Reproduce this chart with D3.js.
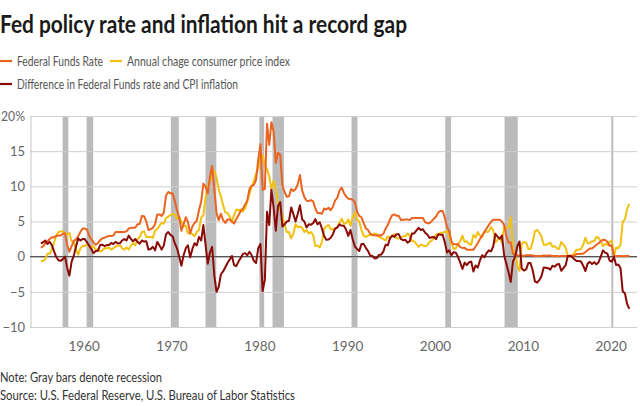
<!DOCTYPE html>
<html><head><meta charset="utf-8">
<script src="https://cdn.jsdelivr.net/npm/d3@7"></script>
<style>body{margin:0;background:#fff}svg{display:block}</style>
</head><body><svg id="chart" width="640" height="406"></svg>
<script>
// ---- DATA (quarterly readings, first point early 1955) ----
const startYear = 1955;
const fedFunds = [
1.3,1.45,1.9,2.2, 2.5,2.75,2.75,2.95, 3.0,3.0,3.25,3.3, 1.6,0.7,1.5,2.25, 2.45,2.9,3.5,4.0,
4.0,3.85,2.95,2.45, 2.0,1.7,1.95,2.35, 2.6,2.7,2.85,2.95, 2.95,3.0,3.5,3.5, 3.5,3.5,3.5,3.6,
4.0,4.1,4.1,4.1, 4.6,4.65,5.8,5.75, 5.0,3.8,3.9,4.1, 4.6,6.0,6.0,5.8, 6.3,8.7,9.2,9.0,
9.0,7.9,6.6,5.6, 3.7,4.6,5.6,4.9, 3.3,4.3,4.8,5.1, 6.6,7.8,10.4,10.0, 9.0,11.3,12.9,9.5,
6.2,5.2,6.1,5.2, 4.8,5.3,5.3,5.0, 4.7,5.35,5.9,6.5, 6.8,7.4,8.0,9.6, 10.1,10.2,10.9,13.8,
16.0,9.5,9.6,18.9, 15.9,19.1,17.8,13.3, 14.8,14.45,10.1,9.2, 8.5,8.6,9.6,9.35, 9.6,10.3,11.6,9.4,
8.5,7.95,7.9,8.05, 7.85,6.85,6.2,6.2, 6.1,6.85,6.7,6.95, 6.6,7.1,8.0,8.35, 9.4,9.8,9.1,8.55,
8.25,8.2,8.1,7.75, 6.4,5.8,5.6,4.8, 4.05,3.8,3.25,3.1, 3.05,3.0,3.05,3.0, 3.25,4.0,4.5,5.3,
5.9,6.0,5.8,5.8, 5.2,5.25,5.3,5.3, 5.2,5.5,5.5,5.5, 5.5,5.5,5.5,4.9, 4.75,4.75,5.05,5.4,
5.7,6.3,6.5,6.5, 5.5,4.2,3.6,2.1, 1.75,1.75,1.75,1.35, 1.25,1.25,1.0,1.0, 1.0,1.0,1.45,1.95,
2.5,3.0,3.5,4.0, 4.5,4.95,5.25,5.25, 5.25,5.25,5.0,4.5, 3.0,2.0,2.0,0.4, 0.2,0.18,0.16,0.12,
0.13,0.2,0.19,0.19, 0.16,0.09,0.1,0.08, 0.1,0.16,0.13,0.16, 0.15,0.11,0.08,0.08, 0.07,0.09,0.09,0.09,
0.11,0.12,0.14,0.12, 0.38,0.37,0.4,0.41, 0.66,0.91,1.16,1.16, 1.42,1.7,1.91,2.2, 2.4,2.38,2.13,1.55,
1.58,0.05,0.1,0.09, 0.08,0.06,0.09,0.08, 0.08
];
const cpiInflation = [
-0.6,-0.6,-0.4,0.4, 0.4,1.1,2.0,3.0, 3.5,3.6,3.6,3.3, 3.2,3.4,2.2,2.1, 1.0,0.3,1.2,1.5,
1.5,1.8,1.4,1.4, 1.5,0.9,1.1,0.7, 0.9,1.2,1.2,1.3, 1.0,1.2,1.4,1.6, 1.6,1.2,1.0,1.3,
1.0,1.6,1.9,1.6, 2.5,2.8,3.5,3.6, 2.8,2.8,2.8,2.7, 3.7,3.9,4.4,4.8, 4.7,5.5,5.7,5.9,
6.1,6.0,5.4,5.6, 5.0,4.4,4.4,3.3, 3.4,3.2,2.9,3.5, 3.8,5.5,5.9,8.3, 10.0,10.7,11.5,12.2,
11.2,9.5,8.6,7.3, 6.3,6.2,5.7,4.9, 5.9,6.7,6.6,6.7, 6.4,6.9,7.8,8.9, 9.9,10.8,11.8,12.6,
14.2,14.4,12.9,12.5, 11.4,9.6,10.8,9.6, 7.6,6.7,5.8,4.6, 3.5,3.5,2.6,3.3, 4.6,4.2,4.3,4.1,
3.5,3.8,3.3,3.5, 3.1,1.5,1.6,1.3, 2.1,3.9,4.3,4.5, 3.9,3.9,4.0,4.2, 4.8,5.4,4.7,4.7,
5.3,4.4,5.6,6.3, 5.3,5.0,3.8,3.0, 2.8,3.0,3.1,3.0, 3.3,3.2,2.8,2.7, 2.5,2.3,2.9,2.7,
2.9,3.2,2.6,2.6, 2.7,2.9,2.9,3.3, 3.0,2.2,2.2,1.8, 1.4,1.7,1.6,1.5, 1.6,2.1,2.3,2.6,
3.2,3.1,3.4,3.4, 3.5,3.6,2.7,1.9, 1.1,1.2,1.8,2.2, 3.0,2.1,2.2,1.8, 1.7,3.1,2.7,3.5,
3.0,2.8,3.6,3.5, 3.6,4.2,3.8,2.0, 2.4,2.7,2.0,4.3, 4.0,4.2,5.6,1.1, 0.2,-1.3,-2.0,1.8,
2.1,2.0,1.1,1.1, 2.1,3.6,3.8,3.4, 2.9,1.7,1.7,1.8, 2.0,1.4,1.5,1.2, 1.1,2.1,1.7,1.3,
0.0,0.0,0.2,0.5, 1.0,1.0,1.1,1.7, 2.7,1.9,1.9,2.2, 2.2,2.8,2.7,2.2, 1.5,1.8,1.7,2.1,
2.3,0.1,1.3,1.2, 1.7,5.0,5.3,6.8, 7.5
];
const rateMinusInflation = [
1.9,2.05,2.3,1.8, 2.1,1.65,0.75,-0.05, -0.5,-0.6,-0.35,0.0, -1.6,-2.7,-0.7,0.15, 1.45,2.6,2.3,2.5,
2.5,2.05,1.55,1.05, 0.5,0.8,0.85,1.65, 1.7,1.5,1.65,1.65, 1.95,1.8,2.1,1.9, 1.9,2.3,2.5,2.3,
3.0,2.5,2.2,2.5, 2.1,1.85,2.3,2.15, 2.2,1.0,1.1,1.4, 0.9,2.1,1.6,1.0, 1.6,3.2,3.5,3.1,
2.9,1.9,1.2,0.0, -1.3,0.2,1.2,1.6, -0.1,1.1,1.9,1.6, 2.8,2.3,4.5,1.7, -1.0,0.6,1.4,-2.7,
-5.0,-4.3,-2.5,-2.1, -1.5,-0.9,-0.4,0.1, -1.2,-1.35,-0.7,-0.2, 0.4,0.5,0.2,0.7, 0.2,-0.6,-0.9,1.2,
1.8,-4.9,-3.3,6.4, 4.5,9.5,7.0,3.7, 7.2,7.75,4.3,4.6, 5.0,5.1,7.0,6.05, 5.0,6.1,7.3,5.3,
5.0,4.15,4.6,4.55, 4.75,5.35,4.6,4.9, 4.0,2.95,2.4,2.45, 2.7,3.2,4.0,4.15, 4.6,4.4,4.4,3.85,
2.95,3.8,2.5,1.45, 1.1,0.8,1.8,1.8, 1.25,0.8,0.15,0.1, -0.25,-0.2,0.25,0.3, 0.75,1.7,1.6,2.6,
3.0,2.8,3.2,3.2, 2.5,2.35,2.4,2.0, 2.2,3.3,3.3,3.7, 4.1,3.8,3.9,3.4, 3.15,2.65,2.75,2.8,
2.5,3.2,3.1,3.1, 2.0,0.6,0.9,0.2, 0.65,0.55,-0.05,-0.85, -1.75,-0.85,-1.2,-0.8, -0.7,-2.1,-1.25,-1.55,
-0.5,0.2,-0.1,0.5, 0.9,0.75,1.45,3.25, 2.85,2.55,3.0,0.2, -1.0,-2.2,-3.6,-0.7, 0.0,1.48,2.16,-1.68,
-1.97,-1.8,-0.91,-0.91, -1.94,-3.51,-3.7,-3.32, -2.8,-1.54,-1.57,-1.64, -1.85,-1.29,-1.42,-1.12, -1.03,-2.01,-1.61,-1.21,
0.11,0.12,-0.06,-0.38, -0.62,-0.63,-0.7,-1.29, -2.04,-0.99,-0.74,-1.04, -0.78,-1.1,-0.79,0.0, 0.9,0.58,0.43,-0.55,
-0.72,-0.05,-1.2,-1.11, -1.62,-4.94,-5.21,-6.72, -7.42
];
const recessionStarts = [1957.6, 1960.33, 1969.92, 1973.87, 1980.0, 1981.5, 1990.5, 2001.17, 2007.92, 2020.08];
const recessionEnds   = [1958.25, 1961.08, 1970.83, 1975.1, 1980.55, 1982.8, 1991.17, 2001.83, 2009.42, 2020.3];
const yTickValues = [-10, -5, 0, 5, 10, 15, 20];
const xTickValues = [1960, 1970, 1980, 1990, 2000, 2010, 2020];
const seriesNames = ["Federal Funds Rate", "Annual chage consumer price index", "Difference in Federal Funds rate and CPI inflation"];
const seriesColors = ["#ea6320", "#f3c010", "#8a0a06"];
const titleText = "Fed policy rate and inflation hit a record gap";
const noteText = "Note: Gray bars denote recession";
const sourceText = "Source: U.S. Federal Reserve, U.S. Bureau of Labor Statistics";

// ---- CHART ----
const font = "Lato, 'Open Sans', sans-serif";
const svg = d3.select("#chart").style("font-family", font);
const x = d3.scaleLinear().domain([1954, 2023]).range([31, 637]);
const y = d3.scaleLinear().domain([-10, 20]).range([327, 116]);
const tOf = i => startYear + i / 4 + 0.125;

function fit(sel, w) {
  const n = sel.node().getComputedTextLength();
  if (n > w) sel.attr("textLength", w).attr("lengthAdjust", "spacingAndGlyphs");
}

// title
fit(svg.append("text").attr("x", 0).attr("y", 33).attr("font-size", 25).attr("font-weight", 700)
  .attr("fill", "#1a1a1a").text(titleText), 407);

// legend
const legendPos = [[0, 61], [110, 61], [0, 84]];
const legendW = [86, 163, 221];
seriesNames.forEach((name, i) => {
  const [lx, ly] = legendPos[i];
  svg.append("line").attr("x1", lx).attr("x2", lx + 12).attr("y1", ly).attr("y2", ly)
    .attr("stroke", seriesColors[i]).attr("stroke-width", 2.2);
  fit(svg.append("text").attr("x", lx + 17).attr("y", ly + 4.5).attr("font-size", 13.5)
    .attr("fill", "#555").text(name), legendW[i]);
});

// recession bars
svg.append("g").selectAll("rect").data(recessionStarts).join("rect")
  .attr("x", (d) => x(d)).attr("width", (d, i) => Math.max(1.5, x(recessionEnds[i]) - x(d)))
  .attr("y", y(20)).attr("height", y(-10) - y(20)).attr("fill", "#bbbbbb");

// grid + y axis
const yAxis = d3.axisLeft(y).tickValues(yTickValues).tickSize(-(637 - 30))
  .tickFormat(d => (d === 20 ? "20%" : d < 0 ? "\u2212" + Math.abs(d) : d));
const yg = svg.append("g").attr("transform", "translate(30,0)").call(yAxis);
yg.select(".domain").remove();
yg.selectAll(".tick line").attr("stroke", "#cfcfcf").attr("stroke-width", 1);
yg.selectAll(".tick text").attr("x", -5).attr("font-size", 13).attr("fill", "#666")
  .attr("font-family", font);
yg.selectAll(".tick text").each(function () { fit(d3.select(this), 24); });
// left edge line
svg.append("line").attr("x1", 31).attr("x2", 31).attr("y1", y(20)).attr("y2", y(-10))
  .attr("stroke", "#cfcfcf").attr("stroke-width", 1.2);

// x axis labels
const xAxis = d3.axisBottom(x).tickValues(xTickValues).tickSize(0).tickFormat(d3.format("d"));
const xg = svg.append("g").attr("transform", `translate(0,${y(-10)})`).call(xAxis);
xg.select(".domain").remove();
xg.selectAll(".tick text").attr("y", 14).attr("font-size", 13.5).attr("fill", "#666")
  .attr("font-family", font);

// zero line
svg.append("line").attr("x1", 30).attr("x2", 637).attr("y1", y(0)).attr("y2", y(0))
  .attr("stroke", "#555").attr("stroke-width", 1.4);

// series lines
const line = d3.line().x((d, i) => x(tOf(i))).y(d => y(d));
const drawOrder = [[cpiInflation, 1], [fedFunds, 0], [rateMinusInflation, 2]];
drawOrder.forEach(([arr, ci]) => {
  svg.append("path").datum(arr).attr("d", line).attr("fill", "none")
    .attr("stroke", seriesColors[ci]).attr("stroke-width", 2).attr("stroke-linejoin", "round");
});

// notes
fit(svg.append("text").attr("x", 0).attr("y", 382).attr("font-size", 12.5).attr("fill", "#333").text(noteText), 162);
fit(svg.append("text").attr("x", 0).attr("y", 400).attr("font-size", 12.5).attr("fill", "#333").text(sourceText), 295);
</script></body></html>
